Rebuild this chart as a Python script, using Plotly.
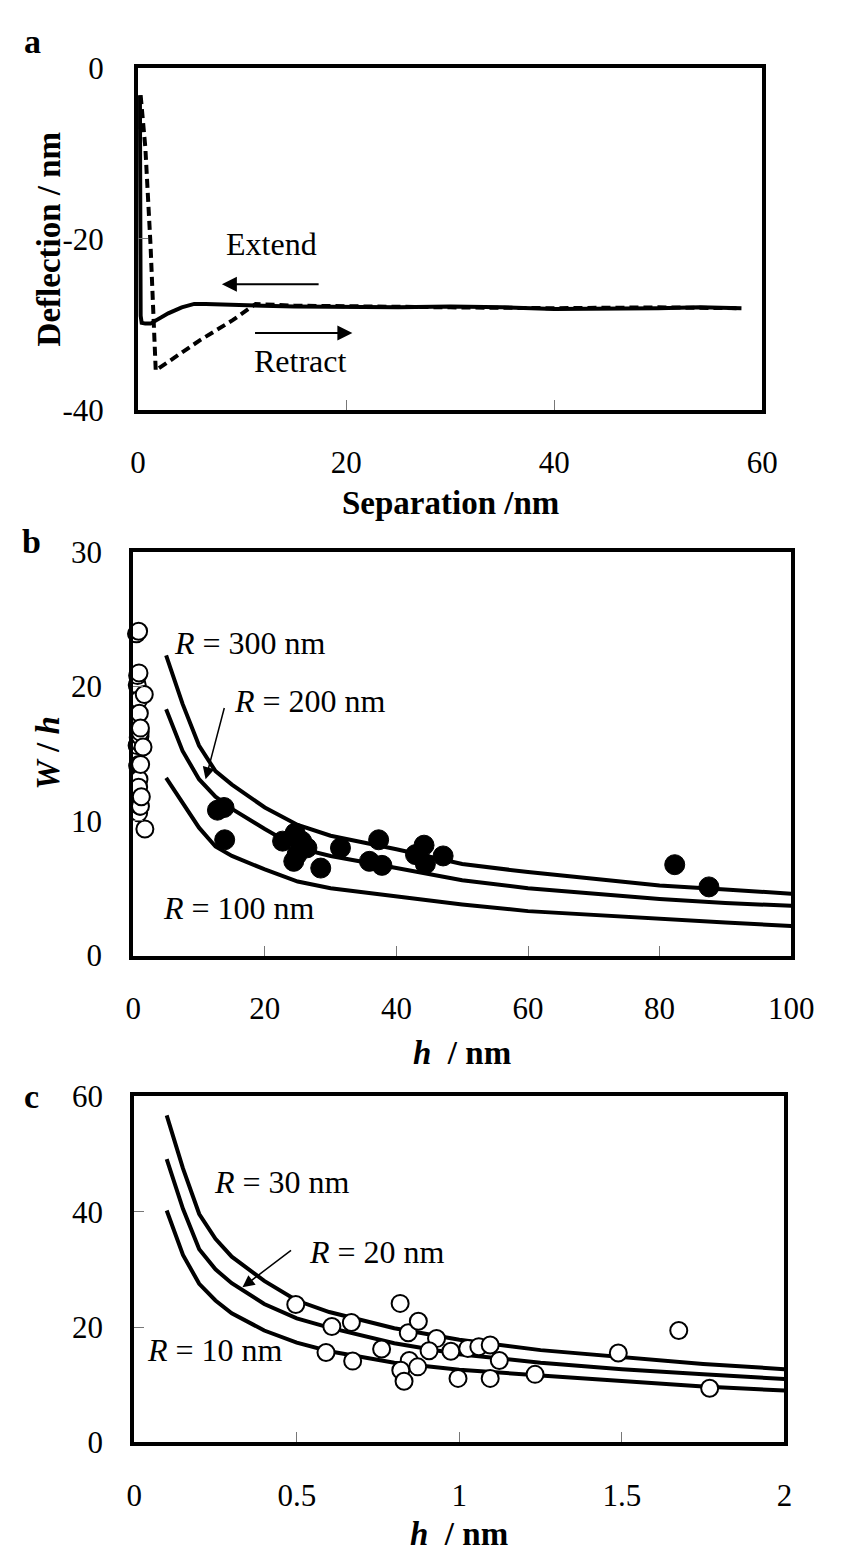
import plotly.graph_objects as go

FONT = "Times New Roman, Liberation Serif, serif"
W, H = 845, 1566

# ---------------- Panel a data ----------------
extend_sep = [58, 54, 50, 45, 40, 35, 30, 25, 20, 15, 12, 10, 8, 6.5, 5.4, 4.2, 2.9, 2.0, 1.2, 0.7, 0.35, 0.25, 0.22, 0.2, 0.18]
extend_defl = [-28.1, -28.0, -28.1, -28.2, -28.2, -28.0, -27.9, -28.0, -28.0, -27.9, -27.8, -27.7, -27.6, -27.6, -27.6,
               -28.0, -28.7, -29.4, -29.9, -29.9, -29.8, -29.0, -20.0, -10.0, -3.2]
retract_sep = [0.25, 0.7, 1.2, 1.5, 1.7, 1.9, 6.0, 9.1, 11.3, 15, 20, 30, 40, 50, 58]
retract_defl = [-3.2, -9.3, -20.7, -30.2, -35.4, -35.2, -31.8, -29.5, -27.6, -27.8, -27.9, -28.0, -28.1, -28.0, -28.1]

# ---------------- Panel b data ----------------
b_curve_h = [5, 7.5, 10, 12.5, 15, 20, 25, 30, 40, 50, 60, 70, 80, 90, 100]
b_R300 = [22.3, 18.7, 15.6, 13.7, 12.7, 11.0, 9.7, 8.9, 7.9, 6.8, 6.2, 5.7, 5.2, 4.9, 4.6]
b_R200 = [18.3, 15.2, 13.1, 11.8, 10.9, 9.4, 8.0, 7.4, 6.5, 5.6, 5.0, 4.6, 4.2, 3.9, 3.7]
b_R100 = [13.2, 11.3, 9.5, 8.1, 7.4, 6.4, 5.5, 5.0, 4.4, 3.8, 3.3, 3.0, 2.7, 2.45, 2.2]
b_filled_h = [12.8, 13.8, 13.9, 22.7, 24.6, 25.6, 26.4, 24.4, 24.9, 28.5, 31.5, 37.3, 35.9, 37.8, 44.2, 42.9, 44.4, 47.1, 82.3, 87.5]
b_filled_wh = [10.8, 11.0, 8.6, 8.5, 9.1, 8.5, 8.0, 7.0, 7.5, 6.5, 8.0, 8.6, 7.0, 6.7, 8.2, 7.5, 6.8, 7.4, 6.75, 5.1]

# ---------------- Panel c data (also the open circles of b) ----------------
open_h = [0.497, 0.608, 0.668, 0.59, 0.672, 0.761, 0.818, 0.843, 0.874, 0.846, 0.872, 0.82, 0.83, 0.93, 0.907,
          0.974, 1.026, 0.996, 1.06, 1.095, 1.123, 1.095, 1.233, 1.489, 1.675, 1.77]
open_wh = [23.9, 20.1, 20.8, 15.6, 14.1, 16.2, 24.1, 19.0, 21.0, 14.2, 13.1, 12.5, 10.6, 18.0, 15.9,
           15.8, 16.3, 11.1, 16.6, 16.9, 14.2, 11.1, 11.8, 15.5, 19.4, 9.4]
c_curve_h = [0.1, 0.15, 0.2, 0.25, 0.3, 0.4, 0.5, 0.6, 0.8, 1.0, 1.25, 1.5, 1.75, 2.0]
c_R30 = [56.7, 47.5, 39.6, 35.3, 32.2, 28.0, 24.6, 22.6, 19.8, 17.8, 16.0, 14.8, 13.6, 12.7]
c_R20 = [49.1, 40.5, 33.5, 30.0, 27.6, 24.0, 21.5, 19.9, 17.2, 15.3, 13.8, 12.7, 11.8, 11.0]
c_R10 = [40.2, 32.5, 27.5, 24.6, 22.4, 19.4, 17.3, 15.8, 13.8, 12.6, 11.6, 10.6, 9.7, 9.0]

# tick values and labels
a_xticks = [0, 20, 40, 60]
a_yticks = [0, -20, -40]
a_ylabels = ["0", "-20", "-40"]
b_xticks = [0, 20, 40, 60, 80, 100]
b_yticks = [0, 10, 20, 30]
c_xticks = [0, 0.5, 1, 1.5, 2]
c_xlabels = ["0", "0.5", "1", "1.5", "2"]
c_yticks = [0, 20, 40, 60]

# pixel boxes of plot areas (left, right, top, bottom)
boxes = {"a": (135, 783, 52, 402), "b": (130, 813, 547, 960), "c": (131, 806, 1104, 1458)}


def xdom(k):
    l, r, t, b = boxes[k]
    return [l / W, r / W]


def ydom(k):
    l, r, t, b = boxes[k]
    return [1 - b / H, 1 - t / H]


fig = go.Figure()
LW = 4

# Panel a
fig.add_trace(go.Scatter(x=extend_sep, y=extend_defl, mode="lines", line=dict(color="black", width=LW),
                         xaxis="x", yaxis="y", showlegend=False))
fig.add_trace(go.Scatter(x=retract_sep, y=retract_defl, mode="lines",
                         line=dict(color="black", width=LW, dash="9px,5px"),
                         xaxis="x", yaxis="y", showlegend=False))

# Panel b
for ys in (b_R300, b_R200, b_R100):
    fig.add_trace(go.Scatter(x=b_curve_h, y=ys, mode="lines", line=dict(color="black", width=LW),
                             xaxis="x2", yaxis="y2", showlegend=False))
fig.add_trace(go.Scatter(x=b_filled_h, y=b_filled_wh, mode="markers", cliponaxis=False,
                         marker=dict(size=20, color="black", line=dict(color="black", width=1)),
                         xaxis="x2", yaxis="y2", showlegend=False))
fig.add_trace(go.Scatter(x=open_h, y=open_wh, mode="markers", cliponaxis=False,
                         marker=dict(size=17, color="white", line=dict(color="black", width=2)),
                         xaxis="x2", yaxis="y2", showlegend=False))

# Panel c
for ys in (c_R30, c_R20, c_R10):
    fig.add_trace(go.Scatter(x=c_curve_h, y=ys, mode="lines", line=dict(color="black", width=LW),
                             xaxis="x3", yaxis="y3", showlegend=False))
fig.add_trace(go.Scatter(x=open_h, y=open_wh, mode="markers", cliponaxis=False,
                         marker=dict(size=17, color="white", line=dict(color="black", width=2)),
                         xaxis="x3", yaxis="y3", showlegend=False))

tickfont = dict(family=FONT, size=31, color="black")


def xaxis(k, rng, ticks, labels=None):
    d = dict(domain=xdom(k), range=rng, tickvals=ticks, ticks="inside", ticklen=10, tickwidth=1,
             tickcolor="#777", showline=True, linewidth=LW, linecolor="black", mirror=True,
             showgrid=False, zeroline=False, tickfont=tickfont, ticklabelstandoff=22, fixedrange=True)
    if labels:
        d["ticktext"] = labels
    return d


def yaxis(k, rng, ticks, standoff, labels=None):
    d = dict(domain=ydom(k), range=rng, tickvals=ticks, ticks="inside", ticklen=10, tickwidth=1,
             tickcolor="#777", showline=True, linewidth=LW, linecolor="black", mirror=True,
             showgrid=False, zeroline=False, tickfont=tickfont, ticklabelstandoff=standoff, fixedrange=True)
    if labels:
        d["ticktext"] = labels
    return d


fig.update_layout(
    width=W, height=H, margin=dict(l=0, r=0, t=0, b=0),
    paper_bgcolor="white", plot_bgcolor="white",
    font=dict(family=FONT, color="black", size=32),
    xaxis=dict(xaxis("a", [0, 60], a_xticks), anchor="y"),
    yaxis=dict(yaxis("a", [-40, 0], a_yticks, 24, a_ylabels), anchor="x"),
    xaxis2=dict(xaxis("b", [0, 100], b_xticks), anchor="y2"),
    yaxis2=dict(yaxis("b", [0, 30], b_yticks, 21), anchor="x2"),
    xaxis3=dict(xaxis("c", [0, 2], c_xticks, c_xlabels), anchor="y3"),
    yaxis3=dict(yaxis("c", [0, 60], c_yticks, 21), anchor="x3"),
)

ann = []


def paper_text(text, px, py, size=32, angle=0, xanchor="center"):
    ann.append(dict(text=text, x=px / W, y=1 - py / H, xref="paper", yref="paper", showarrow=False,
                    xanchor=xanchor, yanchor="middle", textangle=angle,
                    font=dict(family=FONT, size=size, color="black")))


# panel letters
paper_text("<b>a</b>", 25, 25, size=34)
paper_text("<b>b</b>", 24, 537, size=34)
paper_text("<b>c</b>", 24, 1104, size=34)

# axis titles
paper_text("<b>Separation /nm</b>", 459, 497, size=33)
paper_text("<b>Deflection / nm</b>", 42, 227, size=33, angle=-90)
paper_text("<b><i>h</i>  / nm</b>", 471, 1060, size=33)
paper_text("<b><i>W</i> / <i>h</i></b>", 42, 753, size=33, angle=-90)
paper_text("<b><i>h</i>  / nm</b>", 468, 1552, size=33)


def data_text(text, x, y, xr, yr, size=32):
    ann.append(dict(text=text, x=x, y=y, xref=xr, yref=yr, showarrow=False, xanchor="center", yanchor="middle",
                    font=dict(family=FONT, size=size, color="black")))


def data_arrow(x0, y0, x1, y1, xr, yr, width=1.5, head=1.6):
    ann.append(dict(text="", x=x1, y=y1, ax=x0, ay=y0, xref=xr, yref=yr, axref=xr, ayref=yr,
                    showarrow=True, arrowhead=2, arrowsize=head, arrowwidth=width, arrowcolor="black"))


# panel a annotations
data_text("Extend", 12.8, -20.6, "x", "y")
data_arrow(17.5, -25.3, 8.06, -25.3, "x", "y", width=2, head=1.5)
data_text("Retract", 15.6, -34.3, "x", "y")
data_arrow(11.1, -31.0, 20.6, -31.0, "x", "y", width=2, head=1.5)

# panel b annotations
data_text("<i>R</i> = 300 nm", 17.8, 23.2, "x2", "y2")
data_text("<i>R</i> = 200 nm", 26.9, 18.9, "x2", "y2")
data_arrow(13.9, 18.5, 11.0, 13.1, "x2", "y2", width=1.5, head=1.6)
data_text("<i>R</i> = 100 nm", 16.1, 3.5, "x2", "y2")

# panel c annotations
data_text("<i>R</i> = 30 nm", 0.454, 45.1, "x3", "y3")
data_text("<i>R</i> = 20 nm", 0.748, 33.0, "x3", "y3")
data_arrow(0.487, 33.5, 0.333, 26.9, "x3", "y3", width=1.5, head=1.6)
data_text("<i>R</i> = 10 nm", 0.25, 16.1, "x3", "y3")

fig.update_layout(annotations=ann)
fig.write_html("out.html")
